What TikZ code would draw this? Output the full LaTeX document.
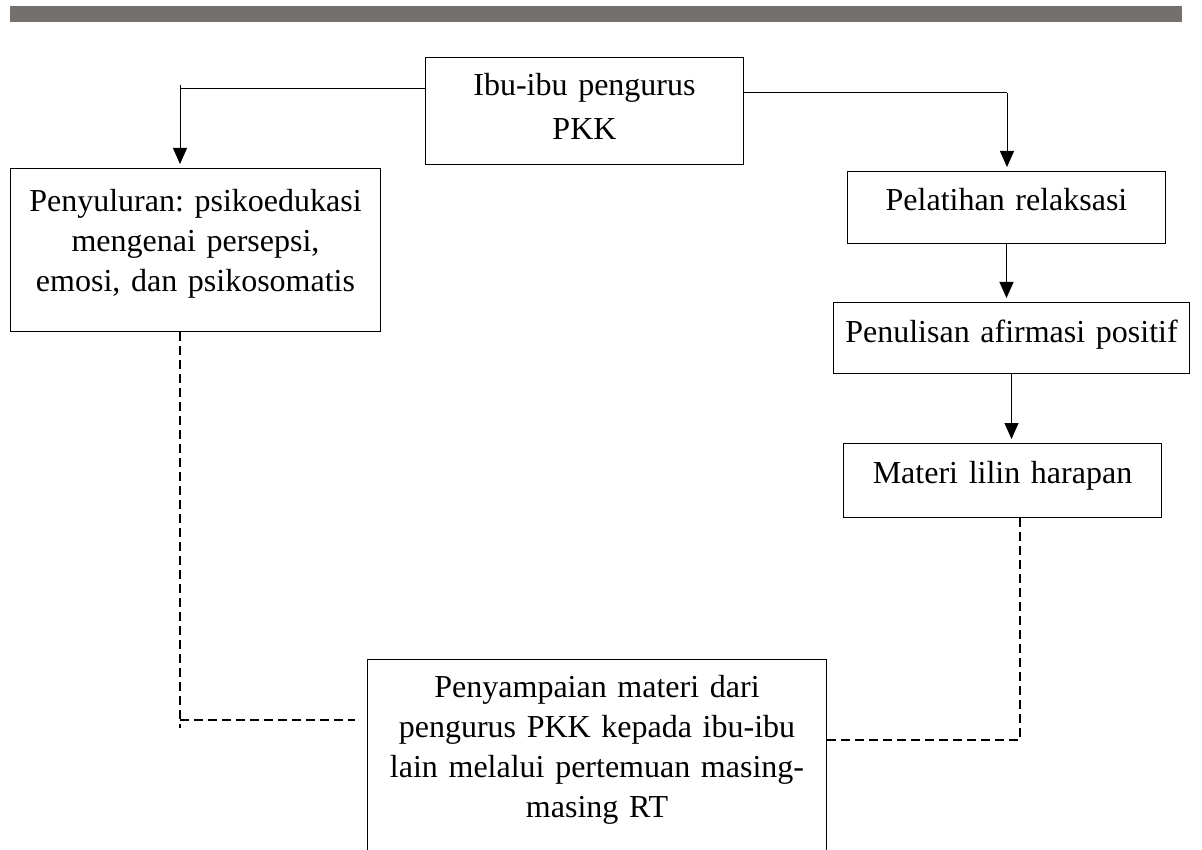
\documentclass[tikz,border=0pt]{standalone}
\usepackage{fontspec}
\setmainfont{Liberation Serif}
\frenchspacing
\usetikzlibrary{arrows.meta}
\definecolor{bargray}{RGB}{115,112,110}
\tikzset{
    pkkbox/.style n args={3}{
        draw, line width=1pt, anchor=north west, align=center,
        text width=#1pt, inner xsep=8pt, inner ysep=#2pt,
        text height=24pt, text depth=#3pt,
        font=\fontsize{32}{40}\selectfont
    },
    conn/.style={line width=1pt},
    arr/.style={-{Triangle[width=14pt,length=16pt]}, shorten >=4pt},
    dashline/.style={line width=1.5pt, dash pattern=on 9pt off 5pt}
}
\begin{document}
\begin{tikzpicture}[x=1pt, y=-1pt]
    \useasboundingbox (0,0) rectangle (1202,850);
    \clip (0,0) rectangle (1202,850);
    \fill[bargray] (10,6) rectangle (1182,22);
    % boxes
    \node[pkkbox={302}{14}{55}] (ibu) at (425,57) {Ibu-ibu pengurus\\[4pt] PKK};
    \node[pkkbox={354}{19}{101}] (sul) at (10,168) {Penyuluran: psikoedukasi\\ mengenai persepsi,\\ emosi, dan psikosomatis};
    \node[pkkbox={302}{15}{18}] (rel) at (847,171) {Pelatihan relaksasi};
    \node[pkkbox={340}{16}{15}] (afi) at (833,302) {Penulisan afirmasi positif};
    \node[pkkbox={302}{16}{18}] (lil) at (843,443) {Materi lilin harapan};
    \node[pkkbox={443}{14}{169}] (rt) at (367,659) {Penyampaian materi dari\\ pengurus PKK kepada ibu-ibu\\ lain melalui pertemuan masing-\\ masing RT};
    % bends
    \coordinate (lh) at (180,89);
    \coordinate (lt) at (180,85);
    \coordinate (rh) at (1007,93);
    \coordinate (ld) at (180,720);
    \coordinate (rd) at (1020,740);
    % arrows
    \draw[conn] (ibu.west |- lh) -- (lh);
    \draw[conn, arr] (lt) -- (lt |- sul.north);
    \draw[conn] (ibu.east |- rh) -- (rh);
    \draw[conn, arr] (rh) -- (rh |- rel.north);
    \draw[conn, arr] (rel.south) -- (rel.south |- afi.north);
    \draw[conn, arr] (afi.south) -- (afi.south |- lil.north);
    % dashed
    \draw[dashline] (sul.south -| ld) -- (ld) -- ++(0,8);
    \draw[dashline, shorten >=12pt] (ld) -- (rt.west |- ld);
    \draw[dashline] (lil.south -| rd) -- (rd) -- (rd -| rt.east);
\end{tikzpicture}
\end{document}
